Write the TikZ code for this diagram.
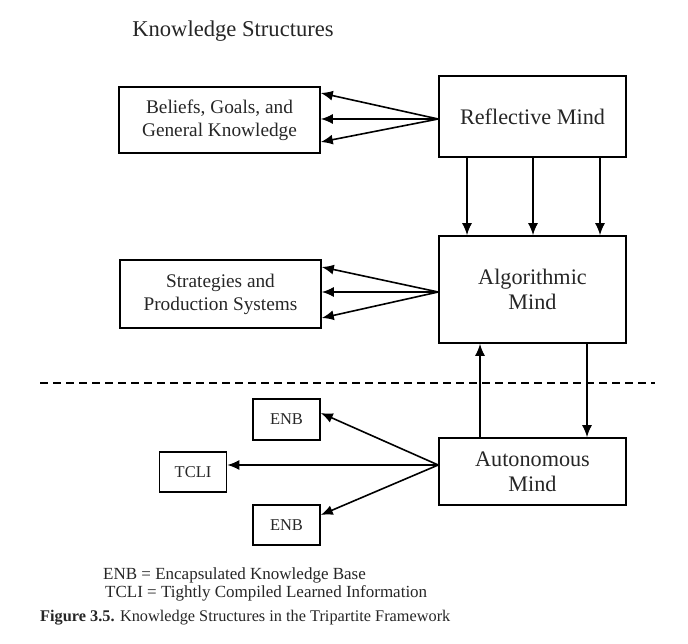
\documentclass[tikz,border=0pt]{standalone}
\usepackage{fontspec}
\setmainfont{Liberation Serif}
\usetikzlibrary{arrows.meta,calc}
\tikzset{
  box/.style={draw, line width=1.6pt, inner sep=0pt, align=center, text=black!85},
  sidebox/.style={box, minimum width=201pt, font=\fontsize{19.3}{23}\selectfont},
  mindbox/.style={box, minimum width=187pt, font=\fontsize{22.2}{25}\selectfont},
  smallbox/.style={box, minimum width=67pt, minimum height=40pt, font=\fontsize{16.5}{20}\selectfont},
  arr/.style={line width=1.6pt, -{Latex[length=12pt,width=10pt]}},
  plain/.style={inner sep=0pt, text=black!85}
}
\begin{document}
\begin{tikzpicture}[x=1pt,y=-1pt]
\useasboundingbox (0,0) rectangle (688,644);
% title
\node[plain, font=\fontsize{22.6}{26}\selectfont] (title) at (233,31) {Knowledge Structures};
% boxes
\node[sidebox, minimum height=66pt] (bel) at (219.5,120) {Beliefs, Goals, and\\General Knowledge};
\node[sidebox, minimum height=68pt] (str) at (220.5,294) {Strategies and\\Production Systems};
\node[mindbox, minimum height=81pt] (refl) at (532.5,116.5) {Reflective Mind};
\node[mindbox, minimum height=107pt] (alg) at (532.5,289.5) {Algorithmic\\Mind};
\node[mindbox, minimum height=67pt] (aut) at (532.5,471.5) {Autonomous\\Mind};
\node[smallbox, minimum height=41pt] (enb1) at (286.5,419.5) {ENB};
\node[smallbox] (tcli) at (193,472) {TCLI};
\node[smallbox] (enb2) at (286.5,525) {ENB};
% reflective -> beliefs
\coordinate (r0) at ([yshift=-2.5pt]refl.west);
\draw[arr] (r0) -- ([yshift=27pt]bel.east);
\draw[arr] (r0) -- ([yshift=1pt]bel.east);
\draw[arr] (r0) -- ([yshift=-22pt]bel.east);
% algorithmic -> strategies
\coordinate (a0) at ([yshift=-2.5pt]alg.west);
\draw[arr] (a0) -- ([yshift=27pt]str.east);
\draw[arr] (a0) -- ([yshift=2pt]str.east);
\draw[arr] (a0) -- ([yshift=-24pt]str.east);
% reflective -> algorithmic
\foreach \xx in {467,533,600}{
  \draw[arr] (refl.south -| \xx,0) -- (alg.north -| \xx,0);
}
% autonomous <-> algorithmic
\draw[arr] (aut.north -| 480,0) -- (alg.south -| 480,0);
\draw[arr] (alg.south -| 587,0) -- (aut.north -| 587,0);
% autonomous -> ENB / TCLI
\coordinate (u0) at ([yshift=6.5pt]aut.west);
\draw[arr] (u0) -- ([yshift=6.5pt]enb1.east);
\draw[arr] (u0) -- ([yshift=7pt]tcli.east);
\draw[arr] (u0) -- ([yshift=10pt]enb2.east);
% dashed line
\coordinate (d1) at (40,383);
\coordinate (d2) at (655,383);
\draw[line width=1.4pt, dash pattern=on 8pt off 5pt] (d1) -- (d2);
% legend
\node[plain, anchor=west, font=\fontsize{17}{20}\selectfont] (leg1) at (103,575) {ENB = Encapsulated Knowledge Base};
\node[plain, anchor=west, font=\fontsize{17}{20}\selectfont] (leg2) at (105,593) {TCLI = Tightly Compiled Learned Information};
\node[plain, anchor=west, font=\fontsize{16.3}{20}\selectfont] (cap) at (40,618) {\textbf{Figure 3.5.} Knowledge Structures in the Tripartite Framework};
\end{tikzpicture}
\end{document}
